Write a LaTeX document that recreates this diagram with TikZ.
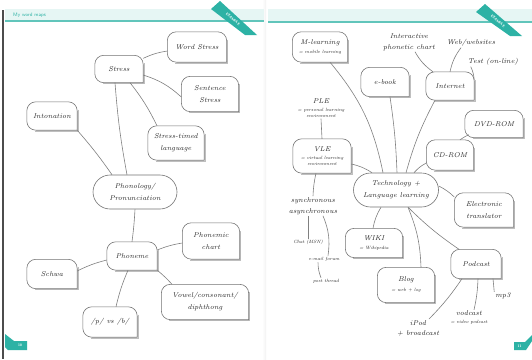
\documentclass[tikz,border=0pt]{standalone}
\usetikzlibrary{shapes.misc}
\definecolor{wmteal}{RGB}{45,178,165}
\definecolor{wmline}{gray}{0.5}
\definecolor{wmbox}{gray}{0.45}
\newcommand\wmsm{\fontsize{4.6}{6}\selectfont\itshape}
\newcommand\wmshape[1]{%
  \draw[boxshadow] ([xshift=1pt,yshift=-8pt]#1.north east) -- ([xshift=1pt,yshift=-1pt]#1.south east) -- ([xshift=8pt,yshift=-1pt]#1.south west);
  \draw[boxline,rounded corners=9pt] (#1.south east) -- (#1.south west) -- (#1.north west) -- (#1.north east) -- (#1.south east);}
\begin{document}
\begin{tikzpicture}[x=1pt,y=-1pt,
  wmfont/.style={font=\fontsize{7}{12}\selectfont\itshape, text=black!85},
  wbox/.style={wmfont, align=center, inner sep=0pt},
  stad/.style={wmfont, align=center, inner sep=0pt, rounded rectangle, draw=wmbox, line width=0.6pt},
  wtext/.style={wmfont, align=center, inner sep=1pt},
  wsmall/.style={font=\wmsm, text=black!85, align=center, inner sep=1pt},
  boxline/.style={draw=wmbox, line width=0.6pt, line cap=rect},
  boxshadow/.style={draw=black!25, line width=1pt},
  conn/.style={draw=wmline, line width=0.6pt},
  ribbon/.style={fill=wmteal},
  ribtext/.style={text=white, font=\sffamily\bfseries\fontsize{3.5}{4}\selectfont, inner sep=0pt}]
\useasboundingbox (0,0) rectangle (532,359);
\fill[white] (0,0) rectangle (532,359);
% ---------- page furniture ----------
\shade[left color=white, right color=black!5] (262,0) rectangle (266,359);
\fill[wmteal!12] (5,9) rectangle (264,20);
\draw[wmteal!75, line width=1.3pt] (5,21) -- (264,21);
\node[text=wmteal, font=\sffamily\fontsize{5}{6}\selectfont, anchor=west, inner sep=0pt] (title) at (13,15) {My word maps};
\fill[wmteal!12] (268,9) rectangle (532,21);
\draw[wmteal!75, line width=1.3pt] (268,22) -- (532,22);
\draw[black!70, line width=1.4pt] (3,10) -- (3,359);
\fill[ribbon] (211,9) -- (220,1) -- (257,35) -- (245,35) -- cycle;
\node[ribtext, rotate=-41] (ex1) at (233,19) {EXAMPLE};
\fill[ribbon] (476,12) -- (485,4) -- (522,36) -- (510,36) -- cycle;
\node[ribtext, rotate=-41] (ex2) at (498,21) {EXAMPLE};
\fill[ribbon] (5,334) -- (14,341) -- (27,341) -- (27,350) -- (8,350) -- (5,347) -- cycle;
\node[ribtext] (p10) at (20,345.5) {10};
\fill[ribbon] (514,342) -- (525,342) -- (532,335) -- (532,341) -- (526,350) -- (514,350) -- cycle;
\node[ribtext] (p11) at (519.5,346) {11};
% ---------- left page ----------
\node[wbox, minimum width=59pt, minimum height=30pt] (ws) at (197,47) {Word Stress};
\node[wbox, minimum width=48pt, minimum height=27pt] (st) at (119,69) {Stress};
\node[wbox, minimum width=57pt, minimum height=35pt] (ss) at (210,94) {Sentence\\Stress};
\node[wbox, minimum width=50pt, minimum height=28pt] (in) at (52,116) {Intonation};
\node[wbox, minimum width=56pt, minimum height=34pt] (stl) at (176,143) {Stress-timed\\language};
\node[stad, minimum width=84pt, minimum height=34pt] (ph) at (135,192) {Phonology/\\Pronunciation};
\node[wbox, minimum width=50pt, minimum height=28pt] (pm) at (132,256) {Phoneme};
\node[wbox, minimum width=57pt, minimum height=36pt] (pc) at (211,241) {Phonemic\\chart};
\node[wbox, minimum width=50pt, minimum height=29pt] (sw) at (52,274) {Schwa};
\node[wbox, minimum width=87pt, minimum height=35pt] (vc) at (205,302) {Vowel/consonant/\\diphthong};
\node[wbox, minimum width=54pt, minimum height=30pt] (pb) at (110,322) {/p/ vs /b/};
\foreach \n in {ws,st,ss,in,stl,pm,pc,sw,vc,pb} {\wmshape{\n}}
\draw[conn] (st) to[bend left=8] (ws);
\draw[conn] ([yshift=-6pt]st.east) to[bend left=12] ([yshift=-3pt]ss.west);
\draw[conn] ([xshift=11pt]st.south) to[bend left=6] ([xshift=-19pt]stl.north);
\draw[conn] ([xshift=-4pt]st.south) to[bend right=3] ([xshift=-8pt]ph.north);
\draw[conn] (in.south east) to[bend left=3] ([xshift=-23pt]ph.north);
\draw[conn] (ph.south) to[bend left=2] (pm.north);
\draw[conn] ([yshift=6pt]pm.east) to[bend left=6] ([yshift=-2pt]pc.west);
\draw[conn] ([yshift=-4pt]pm.west) to[bend right=6] ([yshift=3pt]sw.east);
\draw[conn] (pm.south east) to[bend left=4] ([xshift=-33pt]vc.north);
\draw[conn] ([xshift=-4pt]pm.south) to[bend right=5] ([xshift=6pt]pb.north);
% ---------- right page ----------
\node[wbox, minimum width=55pt, minimum height=30pt] (ml) at (320,47) {M-learning\\[-3pt]{\wmsm = mobile learning}};
\node[wbox, minimum width=48pt, minimum height=29pt] (eb) at (385,82) {e-book};
\node[wbox, minimum width=48pt, minimum height=28pt] (it) at (450,86) {Internet};
\node[wtext] (ipc) at (409,42) {Interactive\\[-1pt]phonetic chart};
\node[wtext] (web) at (471,43) {Web/websites};
\node[wtext] (test) at (493,62) {Test (on-line)};
\node[wtext] (ple) at (321,108) {PLE\\[-4pt]{\wmsm = personal learning}\\[-6pt]{\wmsm environment}};
\node[wbox, minimum width=58pt, minimum height=34pt] (vle) at (322,156) {VLE\\[-4pt]{\wmsm = virtual learning}\\[-6pt]{\wmsm environment}};
\node[wbox, minimum width=58pt, minimum height=27pt] (dvd) at (494,124) {DVD-ROM};
\node[wbox, minimum width=47pt, minimum height=30pt] (cd) at (450,155) {CD-ROM};
\node[stad, minimum width=85pt, minimum height=34pt] (tech) at (396,190) {Technology +\\Language learning};
\node[wbox, minimum width=59pt, minimum height=34pt] (et) at (484,210) {Electronic\\translator};
\node[wtext] (sync) at (313,206) {synchronous\\[-1pt]asynchronous};
\node[wsmall] (chat) at (308,242) {Chat (MSN)};
\node[wsmall] (email) at (324,259) {e-mail forum};
\node[wsmall] (post) at (326,281) {post thread};
\node[wbox, minimum width=57pt, minimum height=29pt] (wiki) at (374,243) {WIKI\\[-3pt]{\wmsm = Wikipedia}};
\node[wbox, minimum width=57pt, minimum height=35pt] (blog) at (406,285) {Blog\\[-2pt]{\wmsm = web + log}};
\node[wbox, minimum width=50pt, minimum height=29pt] (pod) at (476,264) {Podcast};
\node[wtext] (mp3) at (503,296) {mp3};
\node[wtext] (vod) at (469,318) {vodcast\\[-4pt]{\wmsm = video podcast}};
\node[wtext] (ipod) at (418,328) {iPod\\[-2pt]+ broadcast};
\foreach \n in {ml,eb,it,vle,dvd,cd,et,wiki,blog,pod} {\wmshape{\n}}
\draw[conn] ([xshift=10pt]ml.south) to[bend left=14] ([xshift=-13pt]tech.north);
\draw[conn] ([xshift=5pt]eb.south) to[bend left=3] ([xshift=1pt]tech.north);
\draw[conn] ([xshift=-15pt]it.south) to[bend right=6] ([xshift=10pt]tech.north);
\draw[conn] ([xshift=-17pt]it.north) to[bend left=12] ([xshift=6pt]ipc.south);
\draw[conn] (it.north) to[bend left=12] ([xshift=-10pt]web.south);
\draw[conn] ([yshift=6pt]it.east) to[bend right=10] ([xshift=4pt]test.south west);
\draw[conn] (ple.south) -- (vle.north);
\draw[conn] ([yshift=-8pt]vle.east) to[bend left=10] ([xshift=-24pt]tech.north);
\draw[conn] ([xshift=-6pt]vle.south) to[bend right=5] (sync.north);
\draw[conn] ([yshift=-8pt]cd.west) to[bend right=10] ([xshift=18pt]tech.north);
\draw[conn] ([xshift=4pt,yshift=3pt]dvd.south west) to[bend right=5] ([xshift=10pt]cd.north);
\draw[conn] ([yshift=4pt]tech.east) to[bend left=8] ([yshift=13pt]et.west);
\draw[conn] ([xshift=-15pt]tech.south) to[bend right=10] ([xshift=-1pt]wiki.north);
\draw[conn] ([xshift=12pt]tech.south) to[bend left=10] ([xshift=15pt]blog.north);
\draw[conn] (tech.-55) to[bend right=5] ([xshift=-17pt]pod.north);
\draw[conn] ([xshift=-14pt]pod.south) to[bend left=5] ([xshift=11pt]ipod.north);
\draw[conn] ([xshift=2pt]pod.south) to[bend left=5] ([xshift=5pt]vod.north);
\draw[conn] ([xshift=17pt]pod.south) to (mp3.north west);
\draw[conn] ([xshift=-5pt]sync.south) -- (chat.north);
\draw[conn] ([xshift=10pt]sync.south) to[bend left=15] ([xshift=4pt]email.north);
\draw[conn] ([xshift=-6pt]email.south) to[bend right=10] ([xshift=-5pt]post.north);
\end{tikzpicture}
\end{document}
